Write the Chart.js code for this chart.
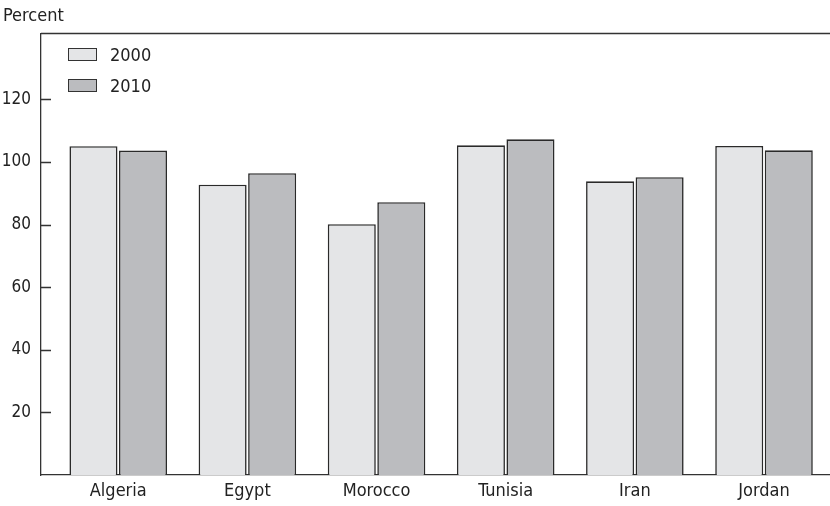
<!DOCTYPE html>
<html>
<head>
<meta charset="utf-8">
<script src="https://cdn.jsdelivr.net/npm/chart.js@4.4.1/dist/chart.umd.min.js"></script>
<style>
  body { margin: 0; background: #fff; }
  #wrap { position: relative; width: 830px; height: 506px; font-family: "DejaVu Sans Condensed", "Liberation Sans Narrow", sans-serif; color: #222; }
  #chart { position: absolute; left: 0; top: 0; }
  .lbl { position: absolute; font-size: 18px; line-height: 20px; }
  .box { position: absolute; width: 27px; height: 11px; border: 1.5px solid #333; }
</style>
</head>
<body>
<div id="wrap">
  <canvas id="chart" width="830" height="506"></canvas>
  <div class="lbl" style="left:3px; top:5px;">Percent</div>
  <div class="box" style="left:68px; top:48px; background:#e4e5e7;"></div>
  <div class="lbl" style="left:110px; top:45px;">2000</div>
  <div class="box" style="left:68px; top:79px; background:#bbbcbf;"></div>
  <div class="lbl" style="left:110px; top:76px;">2010</div>
</div>
<script>
// dados
const paises = ["Algeria", "Egypt", "Morocco", "Tunisia", "Iran", "Jordan"];
const serie2000 = [105.0, 92.7, 80.1, 105.3, 93.8, 105.1];
const serie2010 = [103.6, 96.4, 87.1, 107.2, 95.1, 103.7];
const yTicks = [20, 40, 60, 80, 100, 120];

const corLinha = "#333";

// moldura de cima e tracinhos do eixo y para dentro
const molduraPlugin = {
  id: "moldura",
  afterDraw(chart) {
    const ctx = chart.ctx;
    const a = chart.chartArea;
    const y = chart.scales.y;
    ctx.save();
    ctx.strokeStyle = corLinha;
    ctx.lineWidth = 1.3;
    ctx.beginPath();
    ctx.moveTo(a.left, a.top);
    ctx.lineTo(a.right, a.top);
    yTicks.forEach((t) => {
      const py = Math.round(y.getPixelForValue(t)) + 0.5;
      ctx.moveTo(a.left, py);
      ctx.lineTo(a.left + 10, py);
    });
    ctx.stroke();
    ctx.restore();
  },
};

const familia = '"DejaVu Sans Condensed", "Liberation Sans Narrow", sans-serif';

new Chart(document.getElementById("chart").getContext("2d"), {
  type: "bar",
  data: {
    datasets: [
      {
        label: "2000",
        data: serie2000.map((v, i) => ({ x: i, y: v })),
        backgroundColor: "#e4e5e7",
        borderColor: "#2a2a2a",
        borderWidth: 1.6,
      },
      {
        label: "2010",
        data: serie2010.map((v, i) => ({ x: i, y: v })),
        backgroundColor: "#bbbcbf",
        borderColor: "#2a2a2a",
        borderWidth: 1.6,
      },
    ],
  },
  options: {
    responsive: false,
    animation: false,
    categoryPercentage: 0.767,
    barPercentage: 0.97,
    layout: { padding: { top: 33.5, right: 0, left: 0, bottom: 0 } },
    plugins: { legend: { display: false }, tooltip: { enabled: false } },
    scales: {
      x: {
        type: "linear",
        min: -0.598,
        max: 5.511,
        offset: false,
        grid: { display: false },
        border: { display: true, color: corLinha, width: 1.3 },
        afterBuildTicks: (s) => { s.ticks = paises.map((p, i) => ({ value: i })); },
        afterFit: (s) => { s.height = 31; },
        ticks: {
          autoSkip: false,
          maxRotation: 0,
          color: "#222",
          font: { family: familia, size: 18 },
          padding: -2,
          callback: (v) => paises[v],
        },
      },
      y: {
        min: 0,
        max: 141,
        grid: { display: false },
        border: { display: true, color: corLinha, width: 1.3 },
        afterBuildTicks: (s) => { s.ticks = yTicks.map((v) => ({ value: v })); },
        afterFit: (s) => { s.width = 41; },
        ticks: { color: "#222", font: { family: familia, size: 17 }, padding: 2 },
      },
    },
  },
  plugins: [molduraPlugin],
});
</script>
</body>
</html>
